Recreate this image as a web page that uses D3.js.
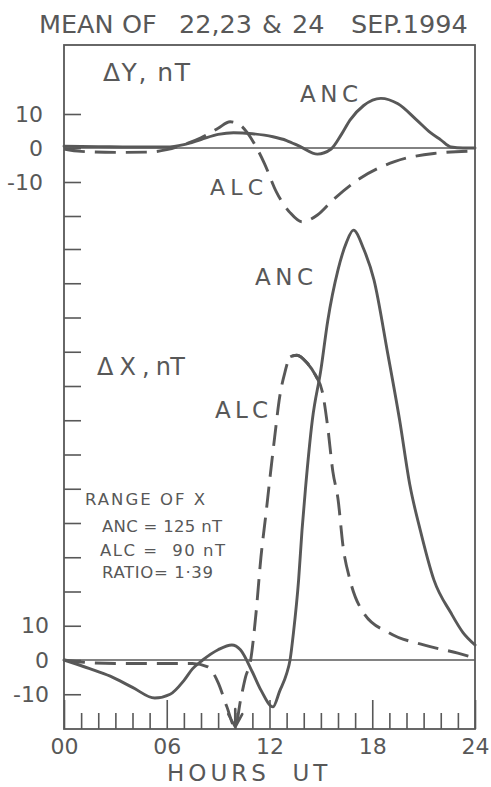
<!DOCTYPE html>
<html>
<head>
<meta charset="utf-8">
<script src="https://cdn.jsdelivr.net/npm/d3@7"></script>
<style>
  html, body { margin: 0; padding: 0; background: #ffffff; }
  svg { display: block; }
  text { font-family: "DejaVu Sans", sans-serif; fill: #585858; }
</style>
</head>
<body>
<svg id="chart" width="491" height="787"></svg>
<script>
// ---- data -------------------------------------------------------------
// Hour-of-day tick labels (UT)
const hourLabels = ["00", "06", "12", "18", "24"];
const majorHours = [0, 6, 12, 18, 24];

// ΔY (nT), mean of 22-24 Sep 1994
const dyAncHours  = [0, 2, 4, 6, 7, 8, 9, 9.9, 11, 12.2, 13, 13.8, 14.8, 15.6, 16.2, 16.7, 17.5, 18.5, 19.5, 20.6, 21.4, 22, 22.6, 23.3, 24];
const dyAncValues = [0.5, 0.4, 0.3, 0.3, 1, 2.5, 4, 4.5, 4.2, 3.3, 2.2, 0.4, -1.8, -0.3, 4, 8.2, 12.5, 14.6, 13, 8.2, 4.5, 2.4, 0.3, 0, 0];

const dyAlcHours  = [0, 1, 3, 5, 6, 7, 8, 9, 9.7, 10.3, 10.7, 11.1, 11.7, 12.4, 13.2, 13.9, 14.8, 15.7, 17.3, 19.3, 21.6, 24];
const dyAlcValues = [-0.3, -1, -1.3, -1.2, -0.5, 1, 3, 5.8, 7.7, 6.7, 4.5, 1.4, -4.5, -12.9, -19, -21.7, -19.7, -15.3, -8.9, -4, -1.6, -0.9];

// ΔX (nT)
const dxAncHours  = [0, 1.5, 2.7, 4, 5.3, 6.2, 7, 7.5, 8.1, 9, 9.8, 10.3, 11, 11.5, 12.2, 12.6, 13, 13.2, 13.4, 13.7, 13.9, 14.1, 14.5, 15, 15.4, 16, 16.5, 16.9, 17.5, 18.1, 18.9, 19.6, 20.2, 20.8, 21.6, 22.6, 23.3, 24];
const dxAncValues = [0, -2.5, -4.7, -8, -11.1, -10, -6, -2.6, 0, 3, 4.4, 3, -3.5, -8.8, -13.7, -9, -4, 0, 8, 23.4, 38, 50, 70, 84.7, 99, 113.9, 122, 125.5, 120, 111, 89.6, 70, 51, 38, 23.4, 13.7, 8, 4.4];

const dxAlcHours  = [0, 1, 3, 5, 7, 7.5, 8.4, 9, 9.5, 10, 10.3, 10.6, 10.9, 11.2, 11.5, 11.8, 12, 12.3, 12.6, 12.9, 13.2, 13.6, 14.2, 14.7, 15.1, 15.4, 15.7, 16, 16.3, 16.7, 17.5, 19, 21, 23, 24];
const dxAlcValues = [0, -0.6, -1, -1, -1, -1, -2, -6.6, -13.5, -19.6, -12, -5, 0, 13, 30, 43, 52, 65, 77, 84, 88.5, 89, 86.7, 83, 78, 68, 55, 47, 33, 23.4, 13.7, 7.9, 4.4, 2, 0.6];

// Stretch of the ALC ΔX trace drawn as a continuous stroke
const dxAlcSolidSpan = [13.2, 14.8];

// Left-axis ticks
const dyTickValues = [-20, -10, 0, 10];
const dyTickLabels = { "10": "10", "0": "0", "-10": "-10" };
const dxTickValues = d3.range(-10, 121, 10);
const dxTickLabels = { "10": "10", "0": "0", "-10": "-10" };

// ---- layout -----------------------------------------------------------
const ink = "#585858";
const frame = { left: 64, right: 475, top: 45, bottom: 729 };

const svg = d3.select("#chart");

const x  = d3.scaleLinear().domain([0, 24]).range([frame.left, frame.right]);
const yY = d3.scaleLinear().domain([-10, 10]).range([182, 114]);
const yX = d3.scaleLinear().domain([0, 120]).range([660, 249]);

const zip = (hs, vs) => hs.map((h, i) => [h, vs[i]]);

// ---- title ------------------------------------------------------------
const title = svg.append("text").attr("y", 33).style("font-size", "25.5px");
[["MEAN", 39], ["OF", 122], ["22,23", 179], ["&", 262], ["24", 292], ["SEP.1994", 351]]
  .forEach(([w, px], i) => {
    title.append("tspan").attr("x", px).text(i < 5 ? w + " " : w);
  });

// ---- axes ---------------------------------------------------------------
function styleAxis(g) {
  g.select(".domain").remove();
  g.selectAll(".tick line").attr("stroke", ink).attr("stroke-width", 1.6);
  g.selectAll(".tick text").attr("fill", ink).style("font-family", "DejaVu Sans, sans-serif");
}

svg.append("g")
  .attr("transform", `translate(${frame.left},0)`)
  .call(d3.axisLeft(yY).tickValues(dyTickValues).tickSize(-17).tickPadding(21)
    .tickFormat(d => dyTickLabels[String(d)] || ""))
  .call(styleAxis)
  .selectAll(".tick text").style("font-size", "22px");

svg.append("g")
  .attr("transform", `translate(${frame.left},0)`)
  .call(d3.axisLeft(yX).tickValues(dxTickValues).tickSize(-17).tickPadding(15)
    .tickFormat(d => dxTickLabels[String(d)] || ""))
  .call(styleAxis)
  .selectAll(".tick text").style("font-size", "22px");

// hourly minor ticks along the bottom edge
svg.append("g")
  .attr("transform", `translate(0,${frame.bottom})`)
  .call(d3.axisBottom(x).tickValues(d3.range(1, 24).filter(h => h % 6 !== 0))
    .tickSize(-16).tickFormat(""))
  .call(styleAxis);

// 6-hourly major ticks with labels
svg.append("g")
  .attr("transform", `translate(0,${frame.bottom})`)
  .call(d3.axisBottom(x).tickValues(majorHours).tickSize(-29).tickPadding(9)
    .tickFormat((d, i) => hourLabels[i]))
  .call(styleAxis)
  .selectAll(".tick text").style("font-size", "22px");

svg.append("text")
  .attr("x", 167).attr("y", 781)
  .style("font-size", "23px")
  .style("letter-spacing", "4px")
  .style("white-space", "pre")
  .text("HOURS  UT");

// ---- frame and zero lines ---------------------------------------------
svg.append("rect")
  .attr("x", frame.left).attr("y", frame.top)
  .attr("width", frame.right - frame.left).attr("height", frame.bottom - frame.top)
  .attr("fill", "none").attr("stroke", ink).attr("stroke-width", 1.8);

[yY(0), yX(0)].forEach(y0 => {
  svg.append("line")
    .attr("x1", x(0)).attr("x2", x(24)).attr("y1", y0).attr("y2", y0)
    .attr("stroke", ink).attr("stroke-width", 1.3);
});

// ---- traces -----------------------------------------------------------
const lineY = d3.line().x(d => x(d[0])).y(d => yY(d[1])).curve(d3.curveMonotoneX);
const lineX = d3.line().x(d => x(d[0])).y(d => yX(d[1])).curve(d3.curveMonotoneX);

const dash = "21 10";

function trace(gen, data, dashed) {
  return svg.append("path")
    .attr("d", gen(data))
    .attr("fill", "none")
    .attr("stroke", ink)
    .attr("stroke-width", 2.9)
    .attr("stroke-linejoin", "round")
    .attr("stroke-linecap", dashed ? "butt" : "round")
    .attr("stroke-dasharray", dashed ? dash : null);
}

trace(lineY, zip(dyAncHours, dyAncValues), false);
trace(lineY, zip(dyAlcHours, dyAlcValues), true);
trace(lineX, zip(dxAncHours, dxAncValues), false);
const alcX = trace(lineX, zip(dxAlcHours, dxAlcValues), true);

// continuous stroke over the ALC crest
function lengthAtX(node, targetX) {
  let lo = 0, hi = node.getTotalLength();
  for (let i = 0; i < 40; i++) {
    const mid = (lo + hi) / 2;
    if (node.getPointAtLength(mid).x < targetX) lo = mid; else hi = mid;
  }
  return lo;
}
const alcNode = alcX.node();
const total = alcNode.getTotalLength();
const l1 = lengthAtX(alcNode, x(dxAlcSolidSpan[0]));
const l2 = lengthAtX(alcNode, x(dxAlcSolidSpan[1]));
svg.append("path")
  .attr("d", alcX.attr("d"))
  .attr("fill", "none")
  .attr("stroke", ink)
  .attr("stroke-width", 2.9)
  .attr("stroke-dasharray", `0 ${l1} ${l2 - l1} ${total}`);

// off-scale marker at the ALC ΔX minimum
const minIdx = d3.minIndex(dxAlcValues);
const ax = x(dxAlcHours[minIdx]), ay = yX(dxAlcValues[minIdx]);
svg.append("path")
  .attr("d", `M${ax - 7},${ay - 13} L${ax},${ay} L${ax + 7},${ay - 13} M${ax},${ay - 18} L${ax},${ay}`)
  .attr("fill", "none").attr("stroke", ink).attr("stroke-width", 2.6)
  .attr("stroke-linecap", "round").attr("stroke-linejoin", "round");

// ---- annotations ------------------------------------------------------
function label(txt, px, py, size, len) {
  const t = svg.append("text")
    .attr("x", px).attr("y", py)
    .style("font-size", size + "px")
    .style("white-space", "pre")
    .text(txt);
  if (len) t.attr("textLength", len).attr("lengthAdjust", "spacing");
  return t;
}

label("ΔY, nT", 103, 81, 25, 87);
label("ANC", 300, 102, 23, 58);
label("ALC", 210, 195, 22, 53);

label("ANC", 255, 285, 23, 58);
label("Δ X , nT", 97, 375, 24, 88);
label("ALC", 215, 418, 23, 53);

label("RANGE OF X", 85, 505, 16.5, 120);
label("ANC = 125 nT", 102, 532, 16.5, 120);
label("ALC =  90 nT", 100, 556, 16.5, 125);
label("RATIO= 1·39", 102, 578, 16.5, 111);
</script>
</body>
</html>
